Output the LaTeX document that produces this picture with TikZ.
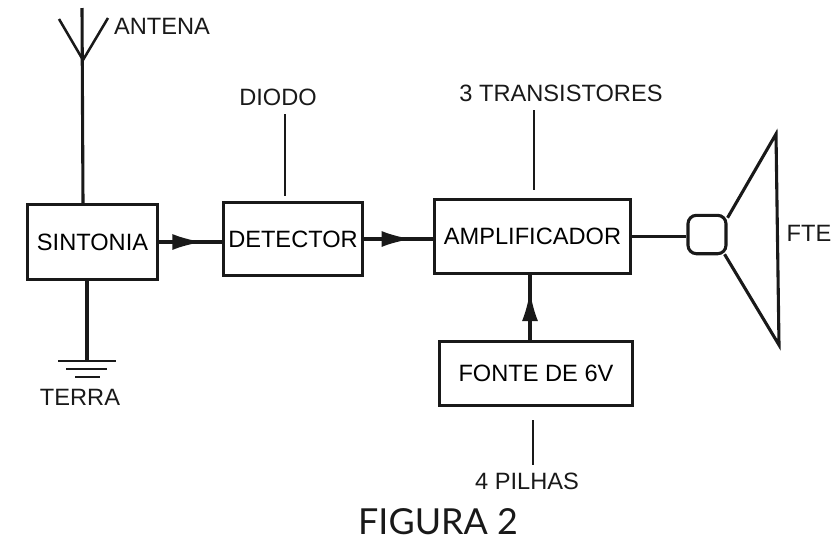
\documentclass[tikz,border=0pt]{standalone}
\usepackage{fontspec}
\setmainfont{Liberation Sans}
\newfontfamily\capfont{Lato}
\usetikzlibrary{arrows.meta,positioning,calc,decorations.markings}

\begin{document}
\begin{tikzpicture}[
  x=0.025cm,
  y=-0.025cm,
  font=\fontsize{16.8}{19}\selectfont,
  box/.style={
    draw=black!90,
    line width=2.2pt,
    align=center,
    inner sep=0pt
  },
  lab/.style={
    text=black!90,
    inner sep=0pt
  },
  edge/.style={
    draw=black!90,
    line width=2.2pt
  },
  thinedge/.style={
    draw=black!90,
    line width=1.8pt
  },
  midarrow/.style={
    postaction={decorate},
    decoration={markings,
      mark=at position #1 with {\arrow{Latex[length=0.75cm,width=0.4cm]}}}
  }
]
\useasboundingbox (0,0) rectangle (840,541);

% Main nodes
\node[box, minimum width=3.25cm, minimum height=1.86cm] (sintonia) at (92.5,242) {SINTONIA};
\node[box, minimum width=3.48cm, minimum height=1.83cm] (detector) at (293,239) {DETECTOR};
\node[box, minimum width=4.9cm, minimum height=1.86cm] (amplificador) at (532.5,236.5) {AMPLIFICADOR};
\node[box, minimum width=4.82cm, minimum height=1.61cm] (fonte) at (536,373.5) {FONTE DE 6V};
\node[box, rounded corners=6pt, minimum width=0.95cm, minimum height=0.96cm] (bobina) at (707,234.5) {};

% Labels
\node[lab] (antena) at (162,26) {ANTENA};
\node[lab] (diodo) at (278,97) {DIODO};
\node[lab] (transistores) at (561,93) {3 TRANSISTORES};
\node[lab] (terra) at (80,397) {TERRA};
\node[lab] (pilhas) at (527,481) {4 PILHAS};
\node[lab] (fte) at (809,233) {FTE};
\node[lab, font=\capfont\fontsize{25.5}{28}\selectfont] (figura) at (438,522) {FIGURA 2};

% Antenna and ground
\coordinate (anttop) at (82,8);
\coordinate (antbase) at (83,60);
\coordinate (antleft) at (59,19);
\coordinate (antright) at (108,18);
\coordinate (gnd) at (87,361);
\draw[edge] (anttop) -- (antbase |- sintonia.north);
\draw[thinedge] (antleft) -- (antbase) -- (antright);
\draw[edge] (gnd |- sintonia.south) -- (gnd);
\draw[thinedge] ($(gnd)+(-29,0)$) -- ($(gnd)+(29,0)$);
\draw[thinedge] ($(gnd)+(-21,8)$) -- ($(gnd)+(20,8)$);
\draw[thinedge] ($(gnd)+(-12,16)$) -- ($(gnd)+(13,16)$);

% Signal path
\draw[edge, midarrow=0.69] (sintonia.east) -- (sintonia.east -| detector.west);
\draw[edge, midarrow=0.69] (detector.east) -- (detector.east -| amplificador.west);
\draw[edge] (amplificador.east) -- (amplificador.east -| bobina.west);
\draw[edge, midarrow=0.76] (530,341) coordinate (alim) -- (alim |- amplificador.south);

% Component leads
\coordinate (diodoin) at (285,114);
\coordinate (transin) at (534,110);
\coordinate (pilhain) at (533,420);
\draw[thinedge] (diodoin) -- ($(diodoin)+(0,82)$);
\draw[thinedge] (transin) -- ($(transin)+(0,80)$);
\draw[thinedge] (pilhain) -- ($(pilhain)+(0,45)$);

% Speaker cone
\coordinate (conetop) at (776,134);
\coordinate (conebot) at (779,345);
\draw[edge, line join=miter] ($(bobina.north east)+(0,4)$) -- (conetop) -- (conebot) -- ($(bobina.south east)+(-3,-1)$);

\end{tikzpicture}
\end{document}
